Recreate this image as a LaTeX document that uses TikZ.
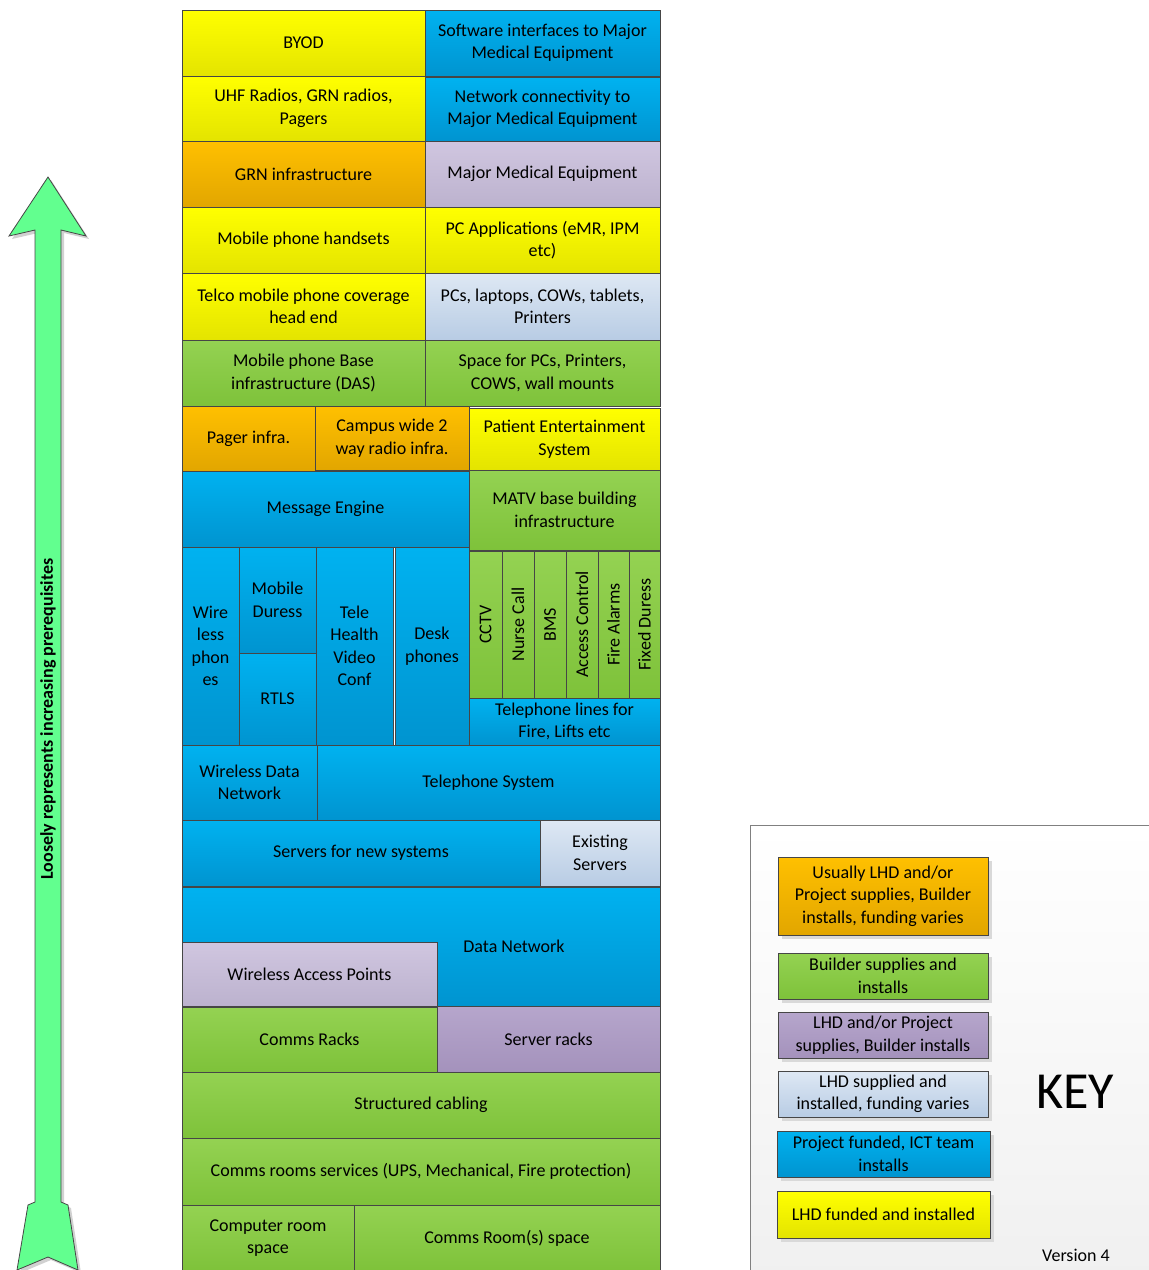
\documentclass[tikz,border=0pt]{standalone}
\usepackage{fontspec}
\setmainfont{Carlito}
\usetikzlibrary{shadows}
\definecolor{yT}{RGB}{255,255,0}\definecolor{yB}{RGB}{228,228,0}
\definecolor{bT}{RGB}{0,178,240}\definecolor{bB}{RGB}{0,148,208}
\definecolor{oT}{RGB}{255,192,0}\definecolor{oB}{RGB}{226,166,0}
\definecolor{gT}{RGB}{148,210,82}\definecolor{gB}{RGB}{126,194,58}
\definecolor{lT}{RGB}{208,198,224}\definecolor{lB}{RGB}{188,178,206}
\definecolor{pT}{RGB}{182,166,204}\definecolor{pB}{RGB}{164,146,188}
\definecolor{sT}{RGB}{222,232,244}\definecolor{sB}{RGB}{184,204,228}
\definecolor{arw}{RGB}{98,255,143}
\definecolor{edge}{RGB}{70,70,70}
\newcommand\bx[7]{\node[cell,#6,minimum width={(#4-#2)*1pt},minimum height={(#5-#3)*1pt}] (#1) at ({(#2+#4)/2},{-(#3+#5)/2}) {#7};}
\newcommand\vbx[7]{\node[cell,#6,rotate=90,minimum width={(#5-#3)*1pt},minimum height={(#4-#2)*1pt}] (#1) at ({(#2+#4)/2},{-(#3+#5)/2}) {#7};}
\tikzset{
  cell/.style={draw=edge,line width=0.8pt,inner sep=0pt,outer sep=0pt,align=center,text=black},
  ylw/.style={top color=yT,bottom color=yB},
  blu/.style={top color=bT,bottom color=bB},
  org/.style={top color=oT,bottom color=oB},
  grn/.style={top color=gT,bottom color=gB},
  lav/.style={top color=lT,bottom color=lB},
  pur/.style={top color=pT,bottom color=pB},
  lbg/.style={top color=sT,bottom color=sB},
  keyshadow/.style={drop shadow={shadow xshift=4pt,shadow yshift=-4pt,fill=black!15,opacity=1}},
}
\begin{document}
\begin{tikzpicture}[x=1pt,y=1pt,font=\fontsize{18}{22.5}\selectfont]
\useasboundingbox (0,0) rectangle (1149,-1270);
% arrow
\fill[black!18] (51,-180) -- (89,-239) -- (64,-233) -- (64,-1205) -- (71,-1208) -- (81,-1273) -- (51,-1260) -- (20,-1273) -- (31,-1208) -- (38,-1205) -- (38,-233) -- (12,-239) -- cycle;
\draw[draw=edge,fill=arw,line width=0.8pt] (48,-177) -- (86,-236) -- (61,-230) -- (61,-1202) -- (68,-1205) -- (78,-1270) -- (48,-1257) -- (17,-1270) -- (28,-1205) -- (35,-1202) -- (35,-230) -- (9,-236) -- cycle;
\node[rotate=90,font=\fontsize{18}{20}\selectfont\bfseries] (arrtxt) at (48,-719) {Loosely represents increasing prerequisites};
% stack
\bx{byod}{182}{10}{425}{76}{ylw}{BYOD}
\bx{swi}{425}{10}{660}{76}{blu}{Software interfaces to Major\\Medical Equipment}
\bx{uhf}{182}{76}{425}{141}{ylw}{UHF Radios, GRN radios,\\Pagers}
\bx{ncm}{425}{77}{660}{141}{blu}{Network connectivity to\\Major Medical Equipment}
\bx{grnb}{182}{141}{425}{207}{org}{GRN infrastructure}
\bx{mme}{425}{141}{660}{207}{lav}{Major Medical Equipment}
\bx{mph}{182}{207}{425}{273}{ylw}{Mobile phone handsets}
\bx{pca}{425}{207}{660}{273}{ylw}{PC Applications (eMR, IPM\\etc)}
\bx{tel}{182}{273}{425}{340}{ylw}{Telco mobile phone coverage\\head end}
\bx{pcs}{425}{273}{660}{340}{lbg}{PCs, laptops, COWs, tablets,\\Printers}
\bx{mpb}{182}{340}{425}{406}{grn}{Mobile phone Base\\infrastructure (DAS)}
\bx{spc}{425}{340}{660}{406}{grn}{Space for PCs, Printers,\\COWS, wall mounts}
\bx{pag}{182}{406}{315}{471}{org}{Pager infra.}
\bx{cmp}{315}{406}{469}{470}{org}{Campus wide 2\\way radio infra.}
\bx{pes}{469}{408}{660}{470}{ylw}{Patient Entertainment\\System}
\bx{mse}{182}{471}{469}{547}{blu}{Message Engine}
\bx{mat}{469}{470}{660}{550}{grn}{MATV base building\\infrastructure}
\bx{wlp}{182}{547}{239}{745}{blu}{Wire\\less\\phon\\es}
\bx{mdu}{239}{547}{316}{653}{blu}{Mobile\\Duress}
\bx{rtl}{239}{653}{316}{745}{blu}{RTLS}
\bx{thv}{316}{547}{393}{745}{blu}{Tele\\Health\\Video\\Conf}
\bx{dsk}{395}{547}{469}{745}{blu}{Desk\\phones}
\vbx{cctv}{469}{551}{502}{698}{grn}{CCTV}
\vbx{nrs}{502}{551}{534}{698}{grn}{Nurse Call}
\vbx{bms}{534}{551}{566}{698}{grn}{BMS}
\vbx{acc}{566}{551}{598}{698}{grn}{Access Control}
\vbx{fal}{598}{551}{629}{698}{grn}{Fire Alarms}
\vbx{fdu}{629}{551}{660}{698}{grn}{Fixed Duress}
\bx{tlf}{469}{698}{660}{745}{blu}{Telephone lines for\\Fire, Lifts etc}
\bx{wdn}{182}{745}{317}{820}{blu}{Wireless Data\\Network}
\bx{tsy}{317}{745}{660}{820}{blu}{Telephone System}
\bx{srv}{182}{820}{540}{886}{blu}{Servers for new systems}
\bx{exs}{540}{820}{660}{886}{lbg}{Existing\\Servers}
\bx{dtn}{182}{887}{660}{1006}{blu}{}
\node (dtnl) at (514,-946) {Data Network};
\bx{wap}{182}{942}{437}{1006}{lav}{Wireless Access Points}
\bx{crk}{182}{1007}{437}{1072}{grn}{Comms Racks}
\bx{srk}{437}{1006}{660}{1072}{pur}{Server racks}
\bx{stc}{182}{1072}{660}{1138}{grn}{Structured cabling}
\bx{crs}{182}{1138}{660}{1205}{grn}{Comms rooms services (UPS, Mechanical, Fire protection)}
\bx{crm}{182}{1205}{354}{1271}{grn}{Computer room\\space}
\bx{crsp}{354}{1205}{660}{1271}{grn}{Comms Room(s) space}
% key
\draw[draw=black!50,line width=0.8pt,top color=white,bottom color=black!6] (750,-825) rectangle (1170,-1290);
\bx{k1}{778}{857}{988}{935}{org,keyshadow}{Usually LHD and/or\\Project supplies, Builder\\installs, funding varies}
\bx{k2}{778}{953}{988}{999}{grn,keyshadow}{Builder supplies and\\installs}
\bx{k3}{778}{1012}{988}{1058}{pur,keyshadow}{LHD and/or Project\\supplies, Builder installs}
\bx{k4}{778}{1071}{988}{1117}{lbg,keyshadow}{LHD supplied and\\installed, funding varies}
\bx{k5}{777}{1131}{990}{1177}{blu,keyshadow}{Project funded, ICT team\\installs}
\bx{k6}{777}{1191}{990}{1238}{ylw,keyshadow}{LHD funded and installed}
\node[font=\fontsize{52}{56}\selectfont] (key) at (1075,-1092) {KEY};
\node (ver) at (1076,-1255) {Version 4};
\end{tikzpicture}
\end{document}
